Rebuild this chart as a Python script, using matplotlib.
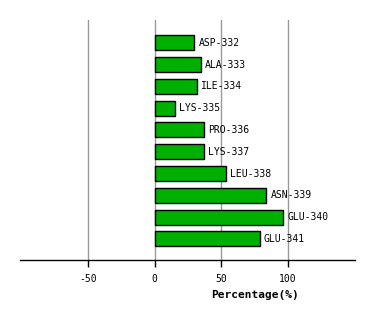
import matplotlib
matplotlib.use("Agg")
import matplotlib.pyplot as plt

residues = ["ASP-332", "ALA-333", "ILE-334", "LYS-335", "PRO-336",
            "LYS-337", "LEU-338", "ASN-339", "GLU-340", "GLU-341"]
values = [30, 35, 32, 15, 37, 37, 54, 84, 96.5, 79]
xticks = [-50, 0, 50, 100]
xtick_labels = ["-50", "0", "50", "100"]

W, H = 374, 320
fig = plt.figure(figsize=(W / 100, H / 100), dpi=100)
ax = fig.add_axes([20 / W, 1 - 260 / H, 335 / W, 240 / H])

ypos = list(range(len(residues)))
ax.barh(ypos, values, height=0.69, color="#00b000", edgecolor="black",
        linewidth=1.0, zorder=3)
for y, v, name in zip(ypos, values, residues):
    ax.text(v + 3, y, name, va="center", ha="left", fontsize=7,
            family="DejaVu Sans Mono", zorder=4)

ax.set_xlim(-100.9, 150.4)
ax.set_ylim(9.97, -1.05)
ax.set_xticks(xticks)
ax.set_xticklabels(xtick_labels, family="DejaVu Sans Mono", fontsize=7)
ax.set_yticks([])
for x in xticks:
    ax.axvline(x, color="#999999", linewidth=1.0, zorder=1)

for s in ["top", "right", "left"]:
    ax.spines[s].set_visible(False)
ax.spines["bottom"].set_linewidth(1.0)
ax.tick_params(axis="x", length=5, width=1.0, pad=5)

ax.text(75.4, 295, "Percentage(%)", transform=ax.transData, fontsize=8,
        weight="bold", family="DejaVu Sans Mono", ha="center", va="center")
# place label using pixel coordinates
ax.texts[-1].set_transform(fig.transFigure)
ax.texts[-1].set_position((255 / W, 1 - 295 / H))

fig.savefig("out.png", dpi=100)
